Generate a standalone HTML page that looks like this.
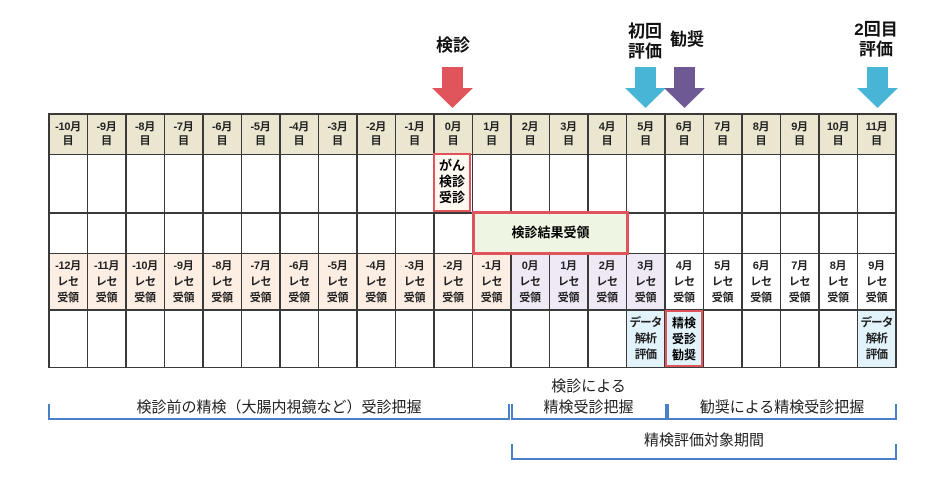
<!DOCTYPE html>
<html><head><meta charset="utf-8"><style>
body{margin:0;width:951px;height:492px;background:#fff;position:relative;overflow:hidden;font-family:"Liberation Sans","Noto Sans CJK JP",sans-serif;}
.g{position:absolute;left:48px;top:113px;display:grid;grid-template-columns:repeat(22,37px);grid-template-rows:39px 57px 39px 55px 56px;gap:1.5px;padding:1.5px;background:#3a3a3a;}
.g i{font-style:normal;background:#fff;text-align:center;font-size:11px;font-weight:bold;line-height:14px;color:#222;display:flex;flex-direction:column;justify-content:center;white-space:nowrap;letter-spacing:-0.3px;}
.g i.h{background:#ebe6cf;}
.g i.p{background:#fdeee4;line-height:16px;}
.g i.l{background:#efe9f6;line-height:16px;}
.g i.w{line-height:16px;}
.g i.b{background:#e2f3fb;line-height:16px;font-size:11.5px;letter-spacing:-0.8px;}
.abs{position:absolute;}
.lbl{position:absolute;font-weight:bold;font-size:17px;line-height:20px;text-align:center;color:#111;}
.t{position:absolute;font-size:15px;line-height:21px;text-align:center;color:#222;}
</style></head><body>
<div class="lbl" style="left:428px;top:36px;width:50px;">検診</div>
<div class="lbl" style="left:624px;top:22px;width:42px;">初回<br>評価</div>
<div class="lbl" style="left:666px;top:30px;width:42px;">勧奨</div>
<div class="lbl" style="left:850px;top:20px;width:52px;">2回目<br>評価</div>
<svg class="abs" style="left:0;top:0" width="951" height="492">
<polygon points="442,67 463,67 463,88 473,88 452.5,108 432,88 442,88" fill="#e0545b"/>
<polygon points="635,67 656,67 656,88 666,88 645.5,108 625,88 635,88" fill="#48b4d6"/>
<polygon points="674,67 695,67 695,88 705,88 684.5,108 664,88 674,88" fill="#6e5994"/>
<polygon points="867,67 888,67 888,88 898,88 877.5,108 857,88 867,88" fill="#48b4d6"/>
<g fill="none" stroke="#4a80c8" stroke-width="2">
<path d="M49,404 V419 H509 V404"/>
<path d="M512,404 V419 H666 V404"/>
<path d="M668,404 V419 H896 V404"/>
<path d="M512,444 V459 H896 V444"/>
</g>
</svg>
<div class="g">
<i class="h">-10月<br>目</i><i class="h">-9月<br>目</i><i class="h">-8月<br>目</i><i class="h">-7月<br>目</i><i class="h">-6月<br>目</i><i class="h">-5月<br>目</i><i class="h">-4月<br>目</i><i class="h">-3月<br>目</i><i class="h">-2月<br>目</i><i class="h">-1月<br>目</i><i class="h">0月<br>目</i><i class="h">1月<br>目</i><i class="h">2月<br>目</i><i class="h">3月<br>目</i><i class="h">4月<br>目</i><i class="h">5月<br>目</i><i class="h">6月<br>目</i><i class="h">7月<br>目</i><i class="h">8月<br>目</i><i class="h">9月<br>目</i><i class="h">10月<br>目</i><i class="h">11月<br>目</i>
<i></i><i></i><i></i><i></i><i></i><i></i><i></i><i></i><i></i><i></i><i></i><i></i><i></i><i></i><i></i><i></i><i></i><i></i><i></i><i></i><i></i><i></i>
<i></i><i></i><i></i><i></i><i></i><i></i><i></i><i></i><i></i><i></i><i></i><i></i><i></i><i></i><i></i><i></i><i></i><i></i><i></i><i></i><i></i><i></i>
<i class="p">-12月<br>レセ<br>受領</i><i class="p">-11月<br>レセ<br>受領</i><i class="p">-10月<br>レセ<br>受領</i><i class="p">-9月<br>レセ<br>受領</i><i class="p">-8月<br>レセ<br>受領</i><i class="p">-7月<br>レセ<br>受領</i><i class="p">-6月<br>レセ<br>受領</i><i class="p">-5月<br>レセ<br>受領</i><i class="p">-4月<br>レセ<br>受領</i><i class="p">-3月<br>レセ<br>受領</i><i class="p">-2月<br>レセ<br>受領</i><i class="p">-1月<br>レセ<br>受領</i><i class="l">0月<br>レセ<br>受領</i><i class="l">1月<br>レセ<br>受領</i><i class="l">2月<br>レセ<br>受領</i><i class="l">3月<br>レセ<br>受領</i><i class="w">4月<br>レセ<br>受領</i><i class="w">5月<br>レセ<br>受領</i><i class="w">6月<br>レセ<br>受領</i><i class="w">7月<br>レセ<br>受領</i><i class="w">8月<br>レセ<br>受領</i><i class="w">9月<br>レセ<br>受領</i>
<i></i><i></i><i></i><i></i><i></i><i></i><i></i><i></i><i></i><i></i><i></i><i></i><i></i><i></i><i></i><i class="b">データ<br>解析<br>評価</i><i class="b"></i><i></i><i></i><i></i><i></i><i class="b">データ<br>解析<br>評価</i>
</div>
<div class="abs" style="left:433px;top:153px;width:34px;height:52px;border:2.5px solid #e0545b;background:#fdf8f0;font-weight:bold;font-size:13px;line-height:16px;text-align:center;padding-top:3px;">がん<br>検診<br>受診</div>
<div class="abs" style="left:472px;top:211px;width:151px;height:38px;border:3px solid #e0545b;background:#eef5e2;font-weight:bold;font-size:13px;line-height:38px;text-align:center;">検診結果受領</div>
<div class="abs" style="left:665px;top:310px;width:34px;height:50px;border:2.5px solid #e0545b;background:#e2f3fb;font-weight:bold;font-size:12px;line-height:16px;text-align:center;padding-top:3px;">精検<br>受診<br>勧奨</div>
<div class="t" style="left:48px;top:397px;width:462px;">検診前の精検（大腸内視鏡など）受診把握</div>
<div class="t" style="left:511px;top:376px;width:155px;">検診による<br>精検受診把握</div>
<div class="t" style="left:666px;top:397px;width:232px;">勧奨による精検受診把握</div>
<div class="t" style="left:511px;top:430px;width:386px;">精検評価対象期間</div>
</body></html>
